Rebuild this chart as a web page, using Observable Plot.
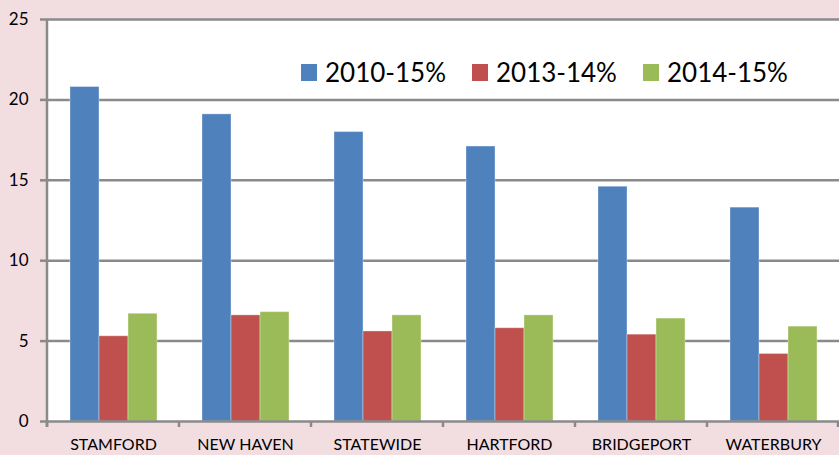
<!DOCTYPE html>
<html>
<head>
<meta charset="utf-8">
<script src="https://cdn.jsdelivr.net/npm/d3@7"></script>
<script src="https://cdn.jsdelivr.net/npm/@observablehq/plot@0.6"></script>
<style>
  html, body { margin: 0; padding: 0; background: #F2DDE1; }
  #wrap { position: relative; width: 839px; height: 455px; overflow: hidden; font-family: Lato, sans-serif; }
  #legend { position: absolute; left: 301px; top: 57px; display: flex; align-items: center; font-size: 26px; line-height: 30px; color: #000; }
  #legend .item { display: flex; align-items: center; }
  #legend .item + .item { margin-left: 26px; }
  #legend .sw { width: 16px; height: 17px; margin-right: 8px; }
</style>
</head>
<body>
<div id="wrap"><div id="chart"></div><div id="legend"></div></div>
<script>
const cities = ["STAMFORD", "NEW HAVEN", "STATEWIDE", "HARTFORD", "BRIDGEPORT", "WATERBURY"];
const series = ["2010-15%", "2013-14%", "2014-15%"];
const v2010_15 = [20.8, 19.1, 18.0, 17.1, 14.6, 13.3];
const v2013_14 = [5.3, 6.6, 5.6, 5.8, 5.4, 4.2];
const v2014_15 = [6.7, 6.8, 6.6, 6.6, 6.4, 5.9];
const yTicks = [0, 5, 10, 15, 20, 25];
const colors = ["#4F81BD", "#C0504D", "#9BBB59"];

const valuesBySeries = [v2010_15, v2013_14, v2014_15];
const data = [];
cities.forEach((c, i) => series.forEach((s, j) => data.push({city: c, series: s, value: valuesBySeries[j][i]})));

const gray = "#8a8a8a";
const W = 839, H = 455;

const plot = Plot.plot({
  width: W,
  height: H,
  marginLeft: 47,
  marginRight: 0,
  marginTop: 19,
  marginBottom: 34,
  style: {background: "transparent", fontFamily: "Lato, sans-serif", fontSize: "17px", color: "#000"},
  fx: {domain: cities, padding: 0, label: null, axis: null},
  x: {domain: series, paddingInner: 0, paddingOuter: 0.75, axis: null},
  y: {domain: [0, 25], axis: null},
  color: {domain: series, range: colors},
  marks: [
    Plot.frame({fill: "white", insetRight: -1}),
    Plot.ruleY(yTicks.filter(d => d > 0), {stroke: gray, strokeWidth: 2.5}),
    Plot.barY(data, {fx: "city", x: "series", y: "value", fill: "series", stroke: "white", strokeOpacity: 0.35, strokeWidth: 1}),
    Plot.ruleY([0], {stroke: gray, strokeWidth: 2.5}),
    Plot.axisY({ticks: yTicks, tickSize: 7, tickPadding: 12, stroke: gray, strokeWidth: 2.5, fill: "#000", label: null}),
    Plot.axisFx({anchor: "bottom", tickSize: 0, tickPadding: 17, fontSize: 16, label: null, fill: "#000"})
  ]
});

document.getElementById("chart").appendChild(plot);

// axis line and category boundary ticks, positioned from Plot's own scales
const fxS = plot.scale("fx");
const yS = plot.scale("y");
const band = d3.scaleBand().domain(fxS.domain).range(fxS.range).padding(0);
const yLin = d3.scaleLinear().domain(yS.domain).range(yS.range);
const svg = d3.select(plot);
const g = svg.append("g").attr("stroke", gray).attr("stroke-width", 2.5);
const x0 = band.range()[0];
g.append("line").attr("x1", x0).attr("x2", x0).attr("y1", yLin(25)).attr("y2", yLin(0) + 6);
const bounds = cities.map(c => band(c)).concat([band.range()[1] - 1]);
bounds.forEach(b => g.append("line").attr("x1", b).attr("x2", b).attr("y1", yLin(0)).attr("y2", yLin(0) + 6));

const legend = document.getElementById("legend");
series.forEach((s, i) => {
  const item = document.createElement("div");
  item.className = "item";
  const sw = document.createElement("div");
  sw.className = "sw";
  sw.style.background = colors[i];
  const t = document.createElement("span");
  t.textContent = s;
  item.appendChild(sw);
  item.appendChild(t);
  legend.appendChild(item);
});
</script>
</body>
</html>
